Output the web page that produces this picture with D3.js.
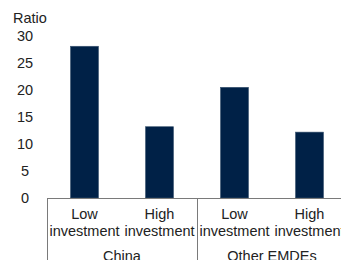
<!DOCTYPE html>
<html><head><meta charset="utf-8">
<script src="https://cdn.jsdelivr.net/npm/d3@7"></script>
<style>body{margin:0;background:#fff}svg{display:block}text{font-family:"Liberation Sans",Arial,sans-serif;fill:#222}</style>
</head><body><svg id="c" width="341" height="260"></svg>
<script>
const categories = ["China|Low", "China|High", "Other EMDEs|Low", "Other EMDEs|High"];
const barLabels = [["Low","investment"],["High","investment"],["Low","investment"],["High","investment"]];
const groups = ["China", "Other EMDEs"];
const values = [28.1, 13.2, 20.5, 12.2];
const yTicks = [0, 5, 10, 15, 20, 25, 30];

const svg = d3.select("#c");
const x = d3.scaleBand().domain(categories).range([47, 347]).paddingInner(0.627).paddingOuter(0.3135);
const y = d3.scaleLinear().domain([0, 30]).range([198, 36]);
const fs = "14.5px";

svg.append("text").attr("x", 13).attr("y", 23).style("font-size", fs).text("Ratio");

svg.selectAll(".yt").data(yTicks).enter().append("text")
  .attr("x", 25).attr("y", d => y(d) + 5).attr("text-anchor", "middle")
  .style("font-size", fs).text(d => d);

svg.selectAll(".bar").data(values).enter().append("rect")
  .attr("x", (d, i) => x(categories[i])).attr("width", x.bandwidth())
  .attr("y", d => y(d)).attr("height", d => y(0) - y(d))
  .attr("fill", "#002147").attr("stroke", "#3a5470").attr("stroke-width", 0.6);

svg.append("line").attr("x1", 47).attr("x2", 341).attr("y1", 198.5).attr("y2", 198.5)
  .attr("stroke", "#7a7a7a").attr("stroke-width", 1);
const gw = x.step() * 2;
[0, 1, 2].forEach(k => {
  const xx = Math.round(47 + k * gw) + 0.5;
  svg.append("line").attr("x1", xx).attr("x2", xx).attr("y1", 198).attr("y2", 260)
    .attr("stroke", "#7a7a7a").attr("stroke-width", 1);
});

categories.forEach((c, i) => {
  const cx = x(c) + x.bandwidth() / 2;
  barLabels[i].forEach((t, j) => {
    svg.append("text").attr("x", cx).attr("y", 219 + j * 17).attr("text-anchor", "middle")
      .style("font-size", fs).text(t);
  });
});
groups.forEach((g, k) => {
  svg.append("text").attr("x", 47 + gw * k + gw / 2).attr("y", 261).attr("text-anchor", "middle")
    .style("font-size", fs).text(g);
});
</script></body></html>
